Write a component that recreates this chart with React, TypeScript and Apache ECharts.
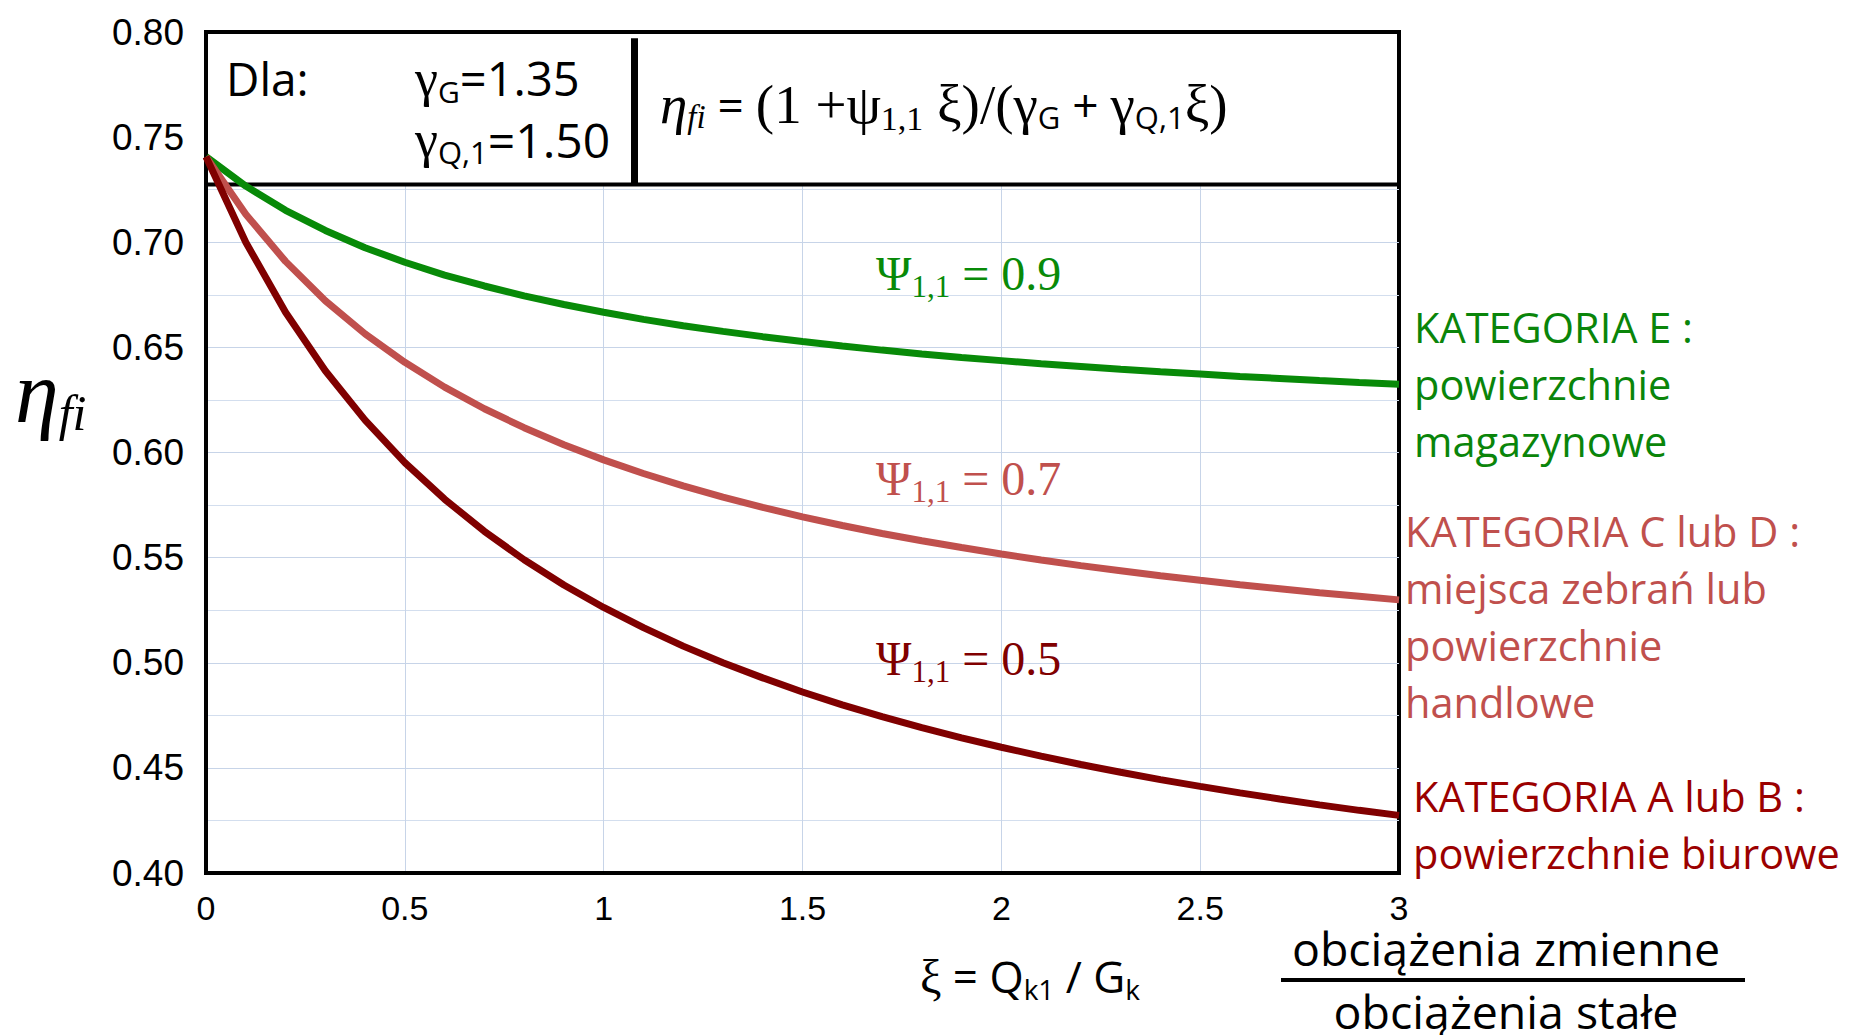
import React, { useEffect, useRef } from "react";
import * as echarts from "echarts";

// ξ = Qk1/Gk sample points
const xiValues = [
  0, 0.1, 0.2, 0.3, 0.4, 0.5, 0.6, 0.7, 0.8, 0.9, 1.0, 1.1, 1.2, 1.3, 1.4, 1.5,
  1.6, 1.7, 1.8, 1.9, 2.0, 2.1, 2.2, 2.3, 2.4, 2.5, 2.6, 2.7, 2.8, 2.9, 3.0,
];
// η_fi for ψ1,1 = 0.9 (KATEGORIA E)
const etaPsi09 = [
  0.7407, 0.7267, 0.7152, 0.7056, 0.6974, 0.6905, 0.6844, 0.6792, 0.6745, 0.6704,
  0.6667, 0.6633, 0.6603, 0.6576, 0.6551, 0.6528, 0.6507, 0.6487, 0.6469, 0.6452,
  0.6437, 0.6422, 0.6409, 0.6396, 0.6384, 0.6373, 0.6362, 0.6352, 0.6342, 0.6333,
  0.6325,
];
// η_fi for ψ1,1 = 0.7 (KATEGORIA C lub D)
const etaPsi07 = [
  0.7407, 0.7133, 0.6909, 0.6722, 0.6564, 0.6429, 0.6311, 0.6208, 0.6118, 0.6037,
  0.5965, 0.59, 0.5841, 0.5788, 0.5739, 0.5694, 0.5653, 0.5615, 0.558, 0.5548,
  0.5517, 0.5489, 0.5462, 0.5438, 0.5414, 0.5392, 0.5371, 0.5352, 0.5333, 0.5316,
  0.5299,
];
// η_fi for ψ1,1 = 0.5 (KATEGORIA A lub B)
const etaPsi05 = [
  0.7407, 0.7, 0.6667, 0.6389, 0.6154, 0.5952, 0.5778, 0.5625, 0.549, 0.537,
  0.5263, 0.5167, 0.5079, 0.5, 0.4928, 0.4861, 0.48, 0.4744, 0.4691, 0.4643,
  0.4598, 0.4556, 0.4516, 0.4479, 0.4444, 0.4412, 0.4381, 0.4352, 0.4324, 0.4298,
  0.4274,
];
const psiLabels = ["0.9", "0.7", "0.5"];
const xTickLabels = ["0", "0.5", "1", "1.5", "2", "2.5", "3"];
const categoryTexts = [
  "KATEGORIA E :\npowierzchnie\nmagazynowe",
  "KATEGORIA C lub D :\nmiejsca zebrań lub\npowierzchnie\nhandlowe",
  "KATEGORIA A lub B :\npowierzchnie biurowe",
];
// Box (annotation) extents in data units
const boxBottom = 0.7275;
const boxDividerXi = 1.077;

const lineColors = ["#088a08", "#c0504d", "#800000"];
const textColors = ["#0a850a", "#c0504d", "#9b0000"];

const SERIF = '"Liberation Serif", "DejaVu Serif", serif';
const SANS = '"Open Sans", "Noto Sans", sans-serif';
const ARIAL = '"Liberation Sans", Arial, sans-serif';

export default function App() {
  const ref = useRef<HTMLDivElement>(null);

  useEffect(() => {
    document.body.style.margin = "0";
    const chart = echarts.init(ref.current!, null, { renderer: "svg" });

    const seriesData = [etaPsi09, etaPsi07, etaPsi05];

    const psiRich = (color: string) => ({
      p: { fontFamily: SERIF, fontSize: 48, fill: color },
      s: { fontFamily: SERIF, fontSize: 31, fill: color, padding: [27, 0, 0, 0] },
      t: { fontFamily: SERIF, fontSize: 48, fill: color },
    });

    const psiY = [273, 478, 658];
    const catPos = [
      { x: 1414, y: 298 },
      { x: 1405, y: 502 },
      { x: 1413, y: 767 },
    ];

    const option: any = {
      animation: false,
      backgroundColor: "#fff",
      grid: {
        left: 206,
        right: 450,
        top: 32,
        bottom: 162,
        show: true,
        borderColor: "#000",
        borderWidth: 4,
        backgroundColor: "transparent",
      },
      xAxis: {
        type: "value",
        min: 0,
        max: 3,
        interval: 0.5,
        axisLine: { show: true, lineStyle: { color: "#000", width: 4 } },
        axisTick: { show: false },
        axisLabel: {
          margin: 18,
          color: "#000",
          fontFamily: ARIAL,
          fontSize: 34,
          formatter: (v: number) => xTickLabels[Math.round(v / 0.5)] ?? String(v),
        },
        splitLine: {
          show: true,
          showMinLine: false,
          showMaxLine: false,
          lineStyle: { color: "#c7d4e8", width: 1 },
        },
      },
      yAxis: {
        type: "value",
        min: 0.4,
        max: 0.8,
        interval: 0.05,
        axisLine: { show: true, lineStyle: { color: "#000", width: 4 } },
        axisTick: { show: false },
        minorTick: { show: false, splitNumber: 2 },
        minorSplitLine: { show: true, lineStyle: { color: "#d3deee", width: 1 } },
        axisLabel: {
          margin: 22,
          color: "#000",
          fontFamily: ARIAL,
          fontSize: 37,
          formatter: (v: number) => v.toFixed(2),
        },
        splitLine: {
          show: true,
          showMinLine: false,
          showMaxLine: false,
          lineStyle: { color: "#c7d4e8", width: 1 },
        },
      },
      series: [
        {
          type: "line",
          name: "box",
          z: 1,
          data: [],
          silent: true,
          markArea: {
            silent: true,
            label: { show: false },
            itemStyle: { color: "#fff", borderColor: "#000", borderWidth: 4 },
            data: [[{ coord: [0, boxBottom] }, { coord: [3, 0.8] }]],
          },
          markLine: {
            silent: true,
            symbol: ["none", "none"],
            label: { show: false },
            lineStyle: { color: "#000", width: 7, type: "solid" },
            data: [[{ coord: [boxDividerXi, boxBottom] }, { coord: [boxDividerXi, 0.797] }]],
          },
        },
        ...seriesData.map((ys, i) => ({
          type: "line",
          name: "Ψ1,1 = " + psiLabels[i],
          z: 5,
          symbol: "none",
          smooth: false,
          lineStyle: { color: lineColors[i], width: 7 },
          itemStyle: { color: lineColors[i] },
          data: xiValues.map((x, k) => [x, ys[k]]),
        })),
      ],
      graphic: [
        // y-axis name η_fi
        {
          type: "text",
          x: 15,
          y: 392,
          z: 10,
          style: {
            text: "{a|η}{b|fi}",
            verticalAlign: "middle",
            rich: {
              a: { fontFamily: SERIF, fontStyle: "italic", fontSize: 88, fill: "#000" },
              b: { fontFamily: SERIF, fontStyle: "italic", fontSize: 50, fill: "#000", padding: [42, 0, 0, 0] },
            },
          },
        },
        // Box texts
        {
          type: "text",
          x: 226,
          y: 78,
          z: 10,
          style: { text: "Dla:", fontFamily: SANS, fontSize: 46, fill: "#000", verticalAlign: "middle" },
        },
        {
          type: "text",
          x: 415,
          y: 78,
          z: 10,
          style: {
            text: "{g|γ}{s|G}{t|=1.35}",
            verticalAlign: "middle",
            rich: {
              g: { fontFamily: SERIF, fontSize: 52, fill: "#000" },
              s: { fontFamily: SANS, fontSize: 30, fill: "#000", padding: [26, 0, 0, 0] },
              t: { fontFamily: SANS, fontSize: 47, fill: "#000" },
            },
          },
        },
        {
          type: "text",
          x: 415,
          y: 139,
          z: 10,
          style: {
            text: "{g|γ}{s|Q,1}{t|=1.50}",
            verticalAlign: "middle",
            rich: {
              g: { fontFamily: SERIF, fontSize: 52, fill: "#000" },
              s: { fontFamily: SANS, fontSize: 31, fill: "#000", padding: [26, 0, 0, 0] },
              t: { fontFamily: SANS, fontSize: 48, fill: "#000" },
            },
          },
        },
        {
          type: "text",
          x: 660,
          y: 104,
          z: 10,
          style: {
            text: "{e|η}{ei|fi}{s| = }{r|(1 +ψ}{rs|1,1}{r| ξ)/(γ}{ss|G}{s| + }{r|γ}{ss|Q,1}{r|ξ)}",
            verticalAlign: "middle",
            rich: {
              e: { fontFamily: SERIF, fontStyle: "italic", fontSize: 55, fill: "#000" },
              ei: { fontFamily: SERIF, fontStyle: "italic", fontSize: 33, fill: "#000", padding: [26, 0, 0, 0] },
              s: { fontFamily: SANS, fontSize: 46, fill: "#000" },
              r: { fontFamily: SERIF, fontSize: 55, fill: "#000" },
              rs: { fontFamily: SERIF, fontSize: 34, fill: "#000", padding: [28, 0, 0, 0] },
              ss: { fontFamily: SANS, fontSize: 31, fill: "#000", padding: [26, 0, 0, 0] },
            },
          },
        },
        // Ψ labels
        ...psiLabels.map((lab, i) => ({
          type: "text",
          x: 876,
          y: psiY[i],
          z: 10,
          style: {
            text: `{p|Ψ}{s|1,1}{t| = ${lab}}`,
            verticalAlign: "middle",
            rich: psiRich(lineColors[i]),
          },
        })),
        // Category texts right of plot
        ...categoryTexts.map((t, i) => ({
          type: "text",
          x: catPos[i].x,
          y: catPos[i].y,
          z: 10,
          style: {
            text: t,
            fontFamily: SANS,
            fontSize: 41.5,
            lineHeight: 57,
            fill: textColors[i],
            verticalAlign: "top",
          },
        })),
        // x-axis name
        {
          type: "text",
          x: 920,
          y: 976,
          z: 10,
          style: {
            text: "{x|ξ}{s| = Q}{b|k1}{s| / G}{b|k}",
            verticalAlign: "middle",
            rich: {
              x: { fontFamily: SERIF, fontSize: 48, fill: "#000" },
              s: { fontFamily: SANS, fontSize: 44, fill: "#000" },
              b: { fontFamily: SANS, fontSize: 28, fill: "#000", padding: [26, 0, 0, 0] },
            },
          },
        },
        // fraction
        {
          type: "text",
          x: 1506,
          y: 948,
          z: 10,
          style: {
            text: "obciążenia zmienne",
            fontFamily: SANS,
            fontSize: 46.5,
            fill: "#000",
            align: "center",
            verticalAlign: "middle",
          },
        },
        {
          type: "line",
          z: 10,
          shape: { x1: 1281, y1: 980, x2: 1745, y2: 980 },
          style: { stroke: "#000", lineWidth: 4 },
        },
        {
          type: "text",
          x: 1506,
          y: 1011,
          z: 10,
          style: {
            text: "obciążenia stałe",
            fontFamily: SANS,
            fontSize: 46.5,
            fill: "#000",
            align: "center",
            verticalAlign: "middle",
          },
        },
      ],
    };

    chart.setOption(option);
    return () => chart.dispose();
  }, []);

  return (
    <div
      ref={ref}
      style={{ position: "fixed", left: 0, top: 0, width: 1849, height: 1035, background: "#fff" }}
    />
  );
}
